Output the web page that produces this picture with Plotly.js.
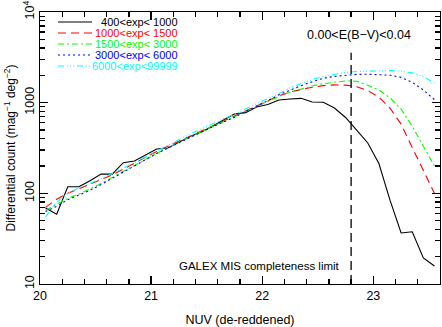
<!DOCTYPE html>
<html>
<head>
<meta charset="utf-8">
<script src="https://cdn.plot.ly/plotly-3.0.1.min.js"></script>
<style>
  html, body { margin: 0; padding: 0; background: #fff; }
  #plot { width: 442px; height: 327px; }
</style>
</head>
<body>
<div id="plot"></div>
<script>
// NUV bin centres (mag)
const nuv = [20.05, 20.15, 20.25, 20.35, 20.45, 20.55, 20.65, 20.75, 20.85, 20.95,
             21.05, 21.15, 21.25, 21.35, 21.45, 21.55, 21.65, 21.75, 21.85, 21.95,
             22.05, 22.15, 22.25, 22.35, 22.45, 22.55, 22.65, 22.75, 22.85, 22.95,
             23.05, 23.15, 23.25, 23.35, 23.45, 23.55];

// differential counts per exposure-time bin
const exp400 = [69, 59, 118, 118, 138, 163, 163, 218, 227, 265,
                308, 316, 368, 424, 475, 545, 645, 750, 777, 896,
                955, 1070, 1097, 1116, 1016, 1010, 873, 686, 499, 359,
                213, 84, 36.5, 37.7, 19.4, 15.8];
const exp1000 = [70, 86, 100, 112, 125, 140, 160, 185, 215, 250,
                 290, 330, 375, 430, 490, 555, 630, 710, 810, 920,
                 1050, 1190, 1310, 1400, 1480, 1540, 1570, 1560, 1500, 1360,
                 1150, 870, 580, 320, 180, 100];
const exp1500 = [65, 75, 88, 98, 112, 128, 150, 175, 205, 240,
                 280, 320, 365, 420, 480, 545, 615, 700, 800, 910,
                 1040, 1170, 1300, 1420, 1530, 1620, 1690, 1740, 1720, 1560,
                 1380, 1130, 850, 550, 330, 200];
const exp3000 = [63, 72, 85, 95, 108, 125, 147, 172, 200, 235,
                 275, 315, 360, 415, 475, 540, 610, 690, 800, 910,
                 1050, 1220, 1380, 1540, 1700, 1860, 1950, 2010, 2050, 2060,
                 2050, 2010, 1900, 1680, 1380, 1080];
const exp6000 = [55, 80, 100, 115, 128, 145, 165, 190, 220, 255,
                 295, 340, 390, 450, 510, 580, 660, 740, 840, 960,
                 1100, 1260, 1460, 1630, 1800, 1950, 2060, 2150, 2210, 2240,
                 2250, 2260, 2230, 2130, 1950, 1640];

const names = ['  400<exp< 1000', '1000<exp< 1500', '1500<exp< 3000', '3000<exp< 6000', '6000<exp<99999'];
const colors = ['#000000', '#ff0000', '#00ff00', '#0000ff', '#00ffff'];
const dashes = ['solid', '8px,5px', '6px,3px,2px,3px', '2px,3px', '6px,3px,1px,2px,1px,2px,1px,3px'];
const series = [exp400, exp1000, exp1500, exp3000, exp6000];

const completeness = 22.8;

const font = 'Liberation Sans, Arial, sans-serif';

const traces = series.map((ys, i) => ({
    type: 'scatter',
    mode: 'lines',
    x: nuv,
    y: ys,
    name: names[i],
    showlegend: false,
    line: {color: colors[i], width: 1.1, dash: dashes[i]},
    hoverinfo: 'skip'
}));

// hand made legend in the upper left corner
const shapes = [];
const annotations = [];
names.forEach((n, i) => {
    const yy = 0.963 - i * 0.0404;
    shapes.push({
        type: 'line', xref: 'paper', yref: 'paper',
        x0: 0.045, x1: 0.13, y0: yy, y1: yy,
        line: {color: colors[i], width: 1.1, dash: dashes[i]}
    });
    annotations.push({
        xref: 'paper', yref: 'paper', x: 0.35, y: yy,
        xanchor: 'right', yanchor: 'middle', showarrow: false,
        text: n.replace(/ /g, '\u00a0').replace(/</g, '&lt;'),
        font: {family: font, size: 11, color: colors[i]}
    });
});

// completeness limit
shapes.push({
    type: 'line', xref: 'x', yref: 'paper',
    x0: completeness, x1: completeness, y0: 0, y1: 0.85,
    line: {color: '#000', width: 1.3, dash: '9px,5px'}
});
annotations.push({
    xref: 'x', yref: 'paper', x: 22.72, y: 0.066,
    xanchor: 'right', yanchor: 'middle', showarrow: false,
    text: 'GALEX MIS completeness limit',
    font: {family: font, size: 11.5, color: '#000'}
});
annotations.push({
    xref: 'x', yref: 'paper', x: 22.87, y: 0.915,
    xanchor: 'center', yanchor: 'middle', showarrow: false,
    text: '0.00&lt;E(B\u2212V)&lt;0.04',
    font: {family: font, size: 12.5, color: '#000'}
});

const layout = {
    width: 442,
    height: 327,
    margin: {l: 40, r: 2, t: 12, b: 43},
    paper_bgcolor: '#fff',
    plot_bgcolor: '#fff',
    font: {family: font, size: 12, color: '#000'},
    xaxis: {
        range: [20, 23.6],
        tickmode: 'linear',
        tick0: 20,
        dtick: 1,
        ticks: 'inside',
        ticklen: 8,
        tickwidth: 1.3,
        tickcolor: '#000',
        minor: {tickmode: 'linear', tick0: 20, dtick: 0.2, ticks: 'inside', ticklen: 5, tickwidth: 1.3, tickcolor: '#000', showgrid: false},
        showline: true,
        linecolor: '#000',
        linewidth: 1,
        mirror: 'allticks',
        showgrid: false,
        zeroline: false,
        automargin: false,
        tickfont: {family: font, size: 12.5},
        title: {text: 'NUV (de-reddened)', font: {family: font, size: 12.5}, standoff: 14}
    },
    yaxis: {
        type: 'log',
        range: [1, 4],
        tickmode: 'linear',
        tick0: 0,
        dtick: 1,
        tickformat: 'd',
        labelalias: {'10000': '10<sup>4</sup>', '10,000': '10<sup>4</sup>'},
        tickangle: -90,
        ticks: 'inside',
        ticklen: 8,
        tickwidth: 1.3,
        tickcolor: '#000',
        minor: {dtick: 'D1', ticks: 'inside', ticklen: 5, tickwidth: 1.3, tickcolor: '#000', showgrid: false},
        showline: true,
        linecolor: '#000',
        linewidth: 1,
        mirror: 'allticks',
        showgrid: false,
        zeroline: false,
        automargin: false,
        tickfont: {family: font, size: 12.5},
        title: {text: 'Differential count (mag<sup>\u22121</sup> deg<sup>\u22122</sup>)', font: {family: font, size: 12}, standoff: 2}
    },
    shapes: shapes,
    annotations: annotations,
    showlegend: false
};

Plotly.newPlot('plot', traces, layout, {displayModeBar: false, staticPlot: true});
</script>
</body>
</html>
